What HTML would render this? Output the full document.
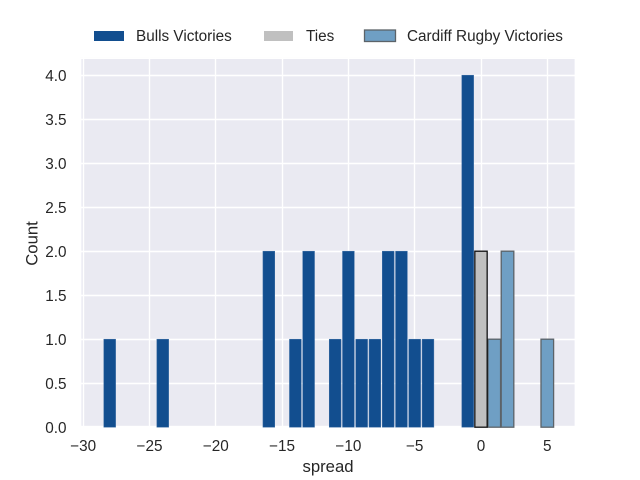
<!DOCTYPE html>
<html>
<head>
<meta charset="utf-8">
<title>Spread histogram</title>
<style>
html,body{margin:0;padding:0;background:#fff;}
svg{display:block;}
text{font-family:"Liberation Sans",Arial,sans-serif;fill:#262626;}
</style>
</head>
<body>
<svg id="chart" width="640" height="480" viewBox="0 0 640 480" xmlns="http://www.w3.org/2000/svg">
  <rect x="80" y="57.6" width="496" height="369.6" fill="#eaeaf2"/>
  <g id="grid"></g>
  <g id="bars"></g>
  <g id="xticks"></g>
  <g id="yticks"></g>
  <text x="328" y="472" font-size="16.7" text-anchor="middle">spread</text>
  <text transform="translate(37.5 243.5) rotate(-90)" font-size="16.7" text-anchor="middle">Count</text>
  <g>
    <g>
      <rect x="94" y="31" width="30" height="10" fill="#124e8f"/>
      <text x="136" y="41" font-size="15.3">Bulls Victories</text>
    </g>
    <g>
      <rect x="264" y="31" width="29" height="10" fill="#c0c0c0"/>
      <text x="306" y="41" font-size="15.3">Ties</text>
    </g>
    <g>
      <rect x="364.5" y="30" width="31" height="11.5" fill="#6f9fc4" stroke="#5c6369" stroke-width="1.3"/>
      <text x="407" y="41" font-size="15.3">Cardiff Rugby Victories</text>
    </g>
  </g>
</svg>
<script>
const bullsSpreads = [-28, -24, -16, -14, -13, -11, -10, -9, -8, -7, -6, -5, -4, -1];
const bullsCounts = [1, 1, 2, 1, 2, 1, 2, 1, 1, 2, 2, 1, 1, 4];
const tieSpreads = [0];
const tieCounts = [2];
const cardiffSpreads = [1, 2, 5];
const cardiffCounts = [1, 2, 1];
const xTickValues = [-30, -25, -20, -15, -10, -5, 0, 5];
const yTickValues = [0, 0.5, 1, 1.5, 2, 2.5, 3, 3.5, 4];

const NS = 'http://www.w3.org/2000/svg';
function xScale(v) { return 481 + v * 13.26; }
function yScale(v) { return 427.2 - v * 88; }
function snap(p) { return Math.floor(p) + 0.5; }
function make(tag, attrs, parent) {
  const el = document.createElementNS(NS, tag);
  for (const k in attrs) el.setAttribute(k, attrs[k]);
  parent.appendChild(el);
  return el;
}

const grid = document.getElementById('grid');
const xticks = document.getElementById('xticks');
const yticks = document.getElementById('yticks');
const bars = document.getElementById('bars');

xTickValues.forEach(function (v) {
  const gx = snap(xScale(v));
  const line = make('line', {x1: gx, x2: gx, y1: 57.6, y2: 427.2, stroke: '#fff', 'stroke-width': 1.4}, grid);
  
  
  const t = make('text', {x: xScale(v), y: 451, 'font-size': 15.3, 'text-anchor': 'middle'}, xticks);
  
  
  t.textContent = (v < 0 ? '\u2212' + Math.abs(v) : String(v));
});

yTickValues.forEach(function (v) {
  const gy = snap(yScale(v));
  const line = make('line', {x1: 80, x2: 576, y1: gy, y2: gy, stroke: '#fff', 'stroke-width': 1.4}, grid);
  
  
  const t = make('text', {x: 66.5, y: yScale(v) + 5.6, 'font-size': 15.3, 'text-anchor': 'end'}, yticks);
  
  
  t.textContent = v.toFixed(1);
});

const spines = make('rect', {x: 80.7, y: 58.3, width: 494.6, height: 368.2, fill: 'none', stroke: '#fff', 'stroke-width': 1.4}, grid);



function drawBars(spreads, counts, fill, stroke, sw, width, name) {
  spreads.forEach(function (s, i) {
    const x0 = xScale(s - width / 2);
    const x1 = xScale(s + width / 2);
    const y = yScale(counts[i]);
    const r = make('rect', {x: x0, y: y, width: x1 - x0, height: yScale(0) - y, fill: fill, stroke: stroke, 'stroke-width': sw}, bars);
    
    
  });
}

drawBars(bullsSpreads, bullsCounts, '#124e8f', '#3f6fa6', 0.5, 0.89, 'bulls-bar');
drawBars(cardiffSpreads, cardiffCounts, '#6f9fc4', '#5c6369', 1.3, 0.95, 'cardiff-bar');
drawBars(tieSpreads, tieCounts, '#c0c0c0', '#111', 1.3, 0.93, 'tie-bar');
</script>
</body>
</html>
